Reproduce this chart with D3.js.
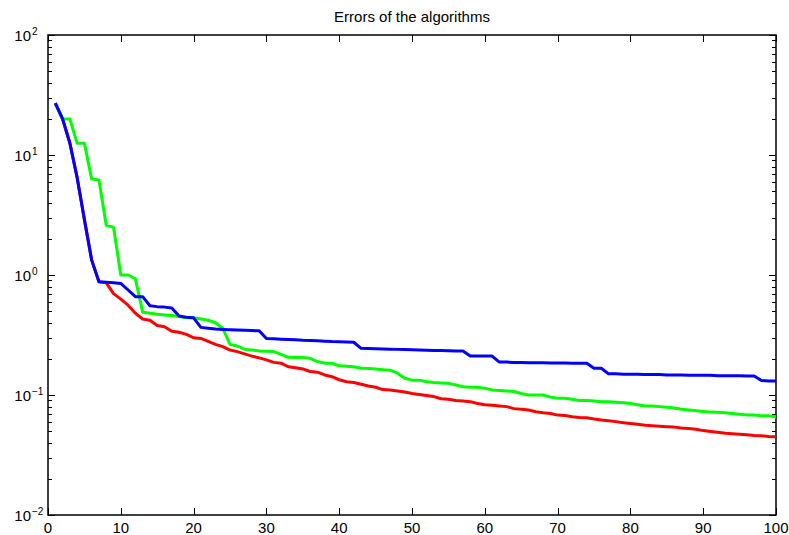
<!DOCTYPE html>
<html>
<head>
<meta charset="utf-8">
<script src="https://cdn.jsdelivr.net/npm/d3@7"></script>
<style>
  body { margin: 0; background: #fff; overflow: hidden; }
  svg { display: block; }
  text { font-family: "Liberation Sans", Arial, sans-serif; }
</style>
</head>
<body>
<div class="chart"></div>
<script>
var w = 789;
var h = 535;

// iterations 1..100
var iters = d3.range(1, 101);

var redErr = [27, 20, 12.6, 6.5, 2.9, 1.33, 0.88, 0.86, 0.70, 0.63,
  0.56, 0.48, 0.43, 0.42, 0.38, 0.37, 0.34, 0.333, 0.32, 0.30,
  0.296, 0.28, 0.264, 0.253, 0.237, 0.23, 0.22, 0.211, 0.204, 0.196,
  0.187, 0.184, 0.172, 0.169, 0.165, 0.157, 0.155, 0.147, 0.142, 0.134,
  0.129, 0.127, 0.123, 0.119, 0.116, 0.111, 0.110, 0.108, 0.106, 0.103,
  0.101, 0.099, 0.097, 0.093, 0.092, 0.090, 0.089, 0.088, 0.085, 0.083,
  0.082, 0.081, 0.080, 0.077, 0.076, 0.075, 0.0726, 0.071, 0.070, 0.068,
  0.0675, 0.066, 0.065, 0.0645, 0.063, 0.062, 0.061, 0.060, 0.0588, 0.0578,
  0.057, 0.056, 0.0555, 0.055, 0.0545, 0.054, 0.053, 0.0525, 0.0518, 0.0505,
  0.0497, 0.0489, 0.048, 0.0475, 0.047, 0.0466, 0.046, 0.0458, 0.0452, 0.0448];

var greenErr = [27, 20, 20, 12.5, 12.5, 6.3, 6.2, 2.6, 2.5, 1.0,
  1.0, 0.93, 0.49, 0.48, 0.47, 0.465, 0.46, 0.45, 0.44, 0.44,
  0.43, 0.42, 0.40, 0.36, 0.264, 0.256, 0.24, 0.237, 0.233, 0.232,
  0.23, 0.218, 0.206, 0.205, 0.205, 0.202, 0.19, 0.184, 0.184, 0.175,
  0.174, 0.172, 0.167, 0.166, 0.165, 0.162, 0.161, 0.152, 0.138, 0.133,
  0.133, 0.129, 0.127, 0.126, 0.125, 0.121, 0.117, 0.116, 0.116, 0.114,
  0.110, 0.109, 0.108, 0.107, 0.103, 0.100, 0.100, 0.100, 0.096, 0.094,
  0.094, 0.092, 0.090, 0.090, 0.089, 0.088, 0.088, 0.087, 0.086, 0.085,
  0.083, 0.081, 0.081, 0.080, 0.079, 0.078, 0.076, 0.075, 0.074, 0.073,
  0.072, 0.0717, 0.071, 0.070, 0.069, 0.068, 0.068, 0.067, 0.067, 0.066];

var blueErr = [27, 20, 12.6, 6.5, 2.9, 1.33, 0.88, 0.87, 0.86, 0.85,
  0.75, 0.66, 0.66, 0.555, 0.545, 0.54, 0.53, 0.455, 0.445, 0.44,
  0.366, 0.36, 0.355, 0.352, 0.35, 0.348, 0.346, 0.344, 0.343, 0.296,
  0.294, 0.292, 0.29, 0.288, 0.286, 0.285, 0.283, 0.281, 0.279, 0.278,
  0.277, 0.275, 0.245, 0.244, 0.243, 0.242, 0.241, 0.240, 0.239, 0.238,
  0.237, 0.236, 0.235, 0.235, 0.234, 0.233, 0.233, 0.211, 0.211, 0.211,
  0.211, 0.188, 0.188, 0.187, 0.187, 0.186, 0.186, 0.186, 0.185, 0.185,
  0.185, 0.184, 0.184, 0.184, 0.167, 0.167, 0.150, 0.150, 0.149, 0.149,
  0.149, 0.148, 0.148, 0.148, 0.147, 0.147, 0.147, 0.146, 0.146, 0.146,
  0.146, 0.145, 0.145, 0.145, 0.145, 0.144, 0.144, 0.132, 0.131, 0.131];

var series = [
  {name: "red", values: redErr, color: "#ff0000"},
  {name: "green", values: greenErr, color: "#00ff00"},
  {name: "blue", values: blueErr, color: "#0000ff"}
];

var xTicks = [0, 10, 20, 30, 40, 50, 60, 70, 80, 90, 100];
var yDecades = [-2, -1, 0, 1, 2];
var title = "Errors of the algorithms";

var pLeft = 48, pRight = 776, pTop = 35, pBottom = 515;

var x = d3.scaleLinear().domain([0, 100]).range([pLeft, pRight]);
var y = d3.scaleLog().domain([0.01, 100]).range([pBottom, pTop]);

var svg = d3.select(".chart")
            .append("svg")
            .attr("width", w)
            .attr("height", h);

// minor y ticks
var minors = [];
yDecades.slice(0, -1).forEach(function(e) {
    for (var k = 2; k <= 9; k++) minors.push(k * Math.pow(10, e));
});

var tickG = svg.append("g").attr("stroke", "#000").attr("stroke-width", 1);

tickG.selectAll(".xt")
    .data(xTicks)
    .enter()
    .append("path")
    .attr("d", function(d) {
        var px = Math.round(x(d)) + 0.5;
        return "M" + px + "," + pBottom + "v-7M" + px + "," + pTop + "v7";
    });

tickG.selectAll(".yt")
    .data(yDecades)
    .enter()
    .append("path")
    .attr("d", function(d) {
        var py = Math.round(y(Math.pow(10, d))) + 0.5;
        return "M" + pLeft + "," + py + "h7M" + pRight + "," + py + "h-7";
    });

tickG.selectAll(".ym")
    .data(minors)
    .enter()
    .append("path")
    .attr("d", function(d) {
        var py = Math.round(y(d)) + 0.5;
        return "M" + pLeft + "," + py + "h4M" + pRight + "," + py + "h-4";
    });

// box
svg.append("rect")
    .attr("x", pLeft)
    .attr("y", pTop)
    .attr("width", pRight - pLeft)
    .attr("height", pBottom - pTop)
    .attr("fill", "none")
    .attr("stroke", "#000")
    .attr("stroke-width", 1.5);

// lines
var line = d3.line()
    .x(function(d, i) { return x(iters[i]); })
    .y(function(d) { return y(d); });

svg.selectAll(".series")
    .data(series)
    .enter()
    .append("path")
    .attr("d", function(d) { return line(d.values); })
    .attr("fill", "none")
    .attr("stroke", function(d) { return d.color; })
    .attr("stroke-width", 3)
    .attr("stroke-linejoin", "round");

// x labels
svg.selectAll(".xl")
    .data(xTicks)
    .enter()
    .append("text")
    .attr("x", function(d) { return x(d); })
    .attr("y", pBottom + 18)
    .attr("text-anchor", "middle")
    .attr("font-size", 15)
    .text(function(d) { return d; });

// y labels 10^n
svg.selectAll(".yl")
    .data(yDecades)
    .enter()
    .append("text")
    .attr("x", 31)
    .attr("y", function(d) { return y(Math.pow(10, d)) + 6; })
    .attr("text-anchor", "end")
    .attr("font-size", 15)
    .text("10");

svg.selectAll(".ye")
    .data(yDecades)
    .enter()
    .append("text")
    .attr("x", 32)
    .attr("y", function(d) { return y(Math.pow(10, d)) - 0.5; })
    .attr("font-size", 10)
    .text(function(d) { return d < 0 ? "\u2212" + (-d) : d; });

svg.append("text")
    .attr("x", (pLeft + pRight) / 2)
    .attr("y", 21.5)
    .attr("text-anchor", "middle")
    .attr("font-size", 15)
    .text(title);
</script>
</body>
</html>
